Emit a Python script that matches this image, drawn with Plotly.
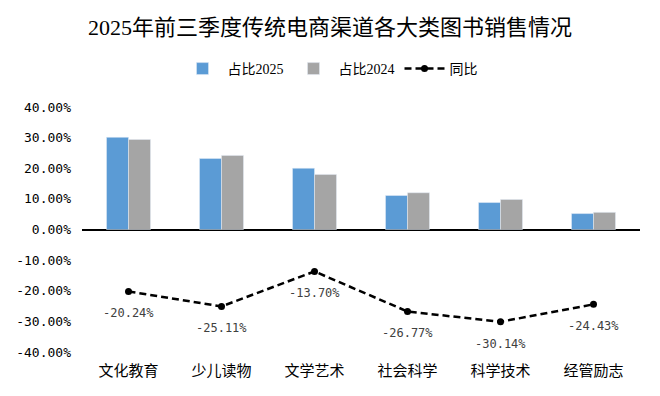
import plotly.graph_objects as go

categories = ["文化教育", "少儿读物", "文学艺术", "社会科学", "科学技术", "经管励志"]
share_2025 = [30.1, 23.2, 20.0, 11.1, 8.8, 5.2]
share_2024 = [29.4, 24.2, 18.0, 12.0, 9.8, 5.6]
yoy = [-20.24, -25.11, -13.70, -26.77, -30.14, -24.43]
tick_vals = [40, 30, 20, 10, 0, -10, -20, -30, -40]
tick_text = ["40.00%", "30.00%", "20.00%", "10.00%", "0.00%", "-10.00%", "-20.00%", "-30.00%", "-40.00%"]

FONT = "Liberation Serif, Noto Sans CJK SC, serif"
MONO = "DejaVu Sans Mono, monospace"

fig = go.Figure()
fig.add_trace(go.Bar(x=categories, y=share_2025, name="占比2025", marker_color="#5B9BD5"))
fig.add_trace(go.Bar(x=categories, y=share_2024, name="占比2024", marker_color="#A5A5A5"))
fig.add_trace(go.Scatter(
    x=categories, y=yoy, name="同比", mode="lines+markers",
    line=dict(color="black", width=2.5, dash="7px,4px"),
    marker=dict(color="black", size=7),
))
for c, v in zip(categories, yoy):
    fig.add_annotation(x=c, y=v, text=f"{v:.2f}%", showarrow=False, yshift=-22,
                       font=dict(family=MONO, size=12, color="#404040"))

fig.update_layout(
    width=660, height=396,
    paper_bgcolor="white", plot_bgcolor="white",
    title=dict(text="2025年前三季度传统电商渠道各大类图书销售情况", x=0.5, xanchor="center",
               xref="container", yref="container",
               y=1 - 27 / 396, yanchor="middle", font=dict(family=FONT, size=22, color="black")),
    font=dict(family=FONT, size=13, color="black"),
    margin=dict(l=82, r=20, t=107, b=44, autoexpand=False),
    barmode="group", bargap=0.527, bargroupgap=0,
    legend=dict(orientation="h", x=0.5, xanchor="center", xref="container",
                yref="container", y=1 - 69 / 396,
                yanchor="middle", font=dict(family=FONT, size=14, color="black"),
                itemwidth=40, tracegroupgap=0),
    showlegend=True,
)
fig.update_xaxes(showline=False, ticks="", automargin=False, showgrid=False,
                 tickfont=dict(size=15, family="Noto Sans CJK SC", color="black"),
                 ticklabelstandoff=8)
fig.update_yaxes(range=[-40, 40], tickvals=tick_vals, ticktext=tick_text, showgrid=False,
                 automargin=False, ticks="", ticklabelstandoff=10,
                 zeroline=True, zerolinecolor="black", zerolinewidth=1.5,
                 tickfont=dict(family=MONO, size=13, color="black"))

fig.write_html("out.html", config={"displayModeBar": False},
               post_script="document.body.style.margin='0';document.body.style.overflow='hidden';")
